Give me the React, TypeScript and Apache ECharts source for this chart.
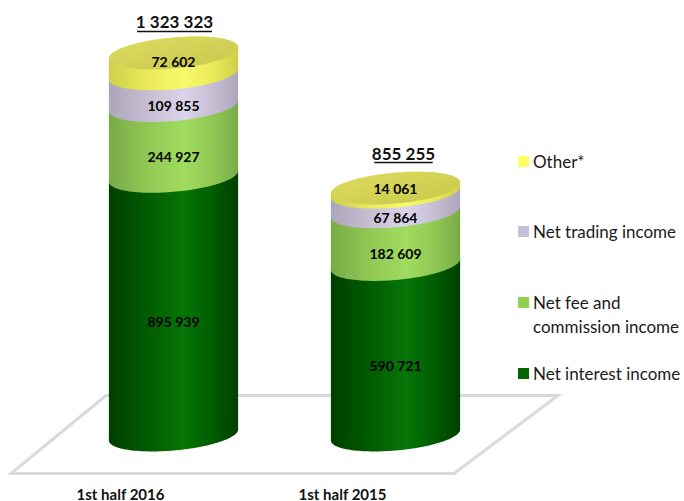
import React, { useEffect, useRef } from "react";
import * as echarts from "echarts";

// Operating income by half-year, stacked bottom to top.
const periods = ["1st half 2016", "1st half 2015"];
const seriesNames = ["Net interest income", "Net fee and commission income", "Net trading income", "Other*"];
const netInterest = [895939, 590721];
const netFee = [244927, 182609];
const netTrading = [109855, 67864];
const other = [72602, 14061];
const totals = [1323323, 855255];
const stackValues = [netInterest, netFee, netTrading, other];

const legendColors = ["#036603", "#92d050", "#c6bfd6", "#ffff66"];
// Side shading of each cylinder band: edge, mid, highlight.
const bandShades = [
  ["#003f00", "#005a00", "#077507"],
  ["#78ab48", "#8fc653", "#a0dc5f"],
  ["#ada5ba", "#c4bcd0", "#dcd4ea"],
  ["#cfcf4a", "#e8e85a", "#f9f96c"],
];

const FONT = "Lato, 'Open Sans', sans-serif";
const WIDTH_RATIO = 0.291; // cylinder half-width as a share of the category band
const RY_RATIO = 0.24; // ellipse height relative to half-width
const TILT = 0.085; // slope of the ellipses
const TOTAL_SHIFT = [[1, -31], [8, -35]]; // placement of each total relative to the cylinder top

const formatNumber = (v: number) => String(v).replace(/\B(?=(\d{3})+(?!\d))/g, " ");

// One point of the tilted ellipse.
const rimPoint = (cx: number, cy: number, a: number, t: number): number[] => [
  cx + a * Math.cos(t),
  cy + a * RY_RATIO * Math.sin(t) - TILT * a * Math.cos(t),
];

const arc = (cx: number, cy: number, a: number, from: number, to: number) => {
  const pts: number[][] = [];
  const steps = 72;
  for (let i = 0; i <= steps; i++) pts.push(rimPoint(cx, cy, a, from + ((to - from) * i) / steps));
  return pts;
};

const sideGradient = (s: string[]) =>
  new echarts.graphic.LinearGradient(0, 0, 1, 0, [
    { offset: 0, color: s[0] },
    { offset: 0.28, color: s[1] },
    { offset: 0.58, color: s[2] },
    { offset: 0.82, color: s[1] },
    { offset: 1, color: s[0] },
  ]);

const renderBand = (seriesIndex: number) => (params: any, api: any) => {
  const cat = api.value(0);
  const [cx, y0] = api.coord([cat, api.value(1)]);
  const [, y1] = api.coord([cat, api.value(2)]);
  const a = api.size([1, 0])[0] * WIDTH_RATIO;
  const ry = a * RY_RATIO;
  const isTop = seriesIndex === stackValues.length - 1;

  const sideEl = {
    type: "polygon",
    shape: { points: [...arc(cx, y0, a, 0, Math.PI), ...arc(cx, y1, a, Math.PI, 2 * Math.PI)] },
    style: { fill: sideGradient(bandShades[seriesIndex]) },
  };
  const children: any[] = [sideEl];

  if (isTop) {
    children.push({
      type: "polygon",
      shape: { points: arc(cx, y1, a, 0, 2 * Math.PI) },
      style: {
        fill: new echarts.graphic.LinearGradient(0, 0, 1, 1, [
          { offset: 0, color: "#dedd62" },
          { offset: 1, color: "#c7c74a" },
        ]),
      },
    });
    // Total above the cylinder, underlined.
    const totalText = formatNumber(totals[cat]);
    const totalX = cx + TOTAL_SHIFT[cat][0];
    const totalY = y1 + TOTAL_SHIFT[cat][1];
    const halfWidth = totalText.length * 4.17;
    children.push({
      type: "text",
      style: {
        text: totalText,
        x: totalX,
        y: totalY,
        align: "center",
        verticalAlign: "middle",
        fill: "#111111",
        fontFamily: FONT,
        fontWeight: 700,
        fontSize: 17,
      },
    });
    children.push({
      type: "line",
      shape: { x1: totalX - halfWidth, y1: totalY + 9.5, x2: totalX + halfWidth, y2: totalY + 9.5 },
      style: { stroke: "#111111", lineWidth: 1.5 },
    });
  }

  const labelY = (y0 + y1) / 2 + (isTop ? -2 : ry);
  children.push({
    type: "text",
    style: {
      text: formatNumber(api.value(3)),
      x: cx,
      y: labelY,
      align: "center",
      verticalAlign: "middle",
      fill: "#000000",
      fontFamily: FONT,
      fontWeight: 700,
      fontSize: 14,
    },
  });
  return { type: "group", children };
};

const buildSeries = () =>
  stackValues.map((values, si) => ({
    type: "custom",
    name: seriesNames[si],
    coordinateSystem: "cartesian2d",
    itemStyle: { color: legendColors[si] },
    encode: { x: 0, y: [1, 2] },
    clip: false,
    data: values.map((v, cat) => {
      const base = stackValues.slice(0, si).reduce((sum, s) => sum + s[cat], 0);
      return [cat, base, base + v, v];
    }),
    renderItem: renderBand(si),
  }));

const legendEntry = (name: string, top: number, formatter?: string) => ({
  data: [name],
  left: 518,
  top,
  padding: 0,
  icon: "rect",
  itemWidth: 11,
  itemHeight: 11,
  itemGap: 0,
  selectedMode: false,
  textStyle: { fontFamily: FONT, fontSize: 17, color: "#1a1a1a", padding: [0, 0, 0, -1] },
  formatter,
});

export default function App() {
  const ref = useRef<HTMLDivElement>(null);
  useEffect(() => {
    document.body.style.margin = "0";
    const chart = echarts.init(ref.current!, undefined, { renderer: "svg" });
    chart.setOption({
      animation: false,
      backgroundColor: "#ffffff",
      grid: { left: 62.5, width: 444, top: 6, bottom: 65 },
      xAxis: {
        type: "category",
        data: periods,
        axisLine: { show: false },
        axisTick: { show: false },
        splitLine: { show: false },
        axisLabel: {
          margin: 51,
          fontFamily: FONT,
          fontWeight: 700,
          fontSize: 15,
          color: "#111111",
          padding: [0, 106, 0, 0],
        },
      },
      yAxis: { type: "value", min: 0, max: 1486000, show: false },
      legend: [
        legendEntry(seriesNames[3], 153),
        legendEntry(seriesNames[2], 223),
        legendEntry(seriesNames[1], 294, "Net fee and"),
        legendEntry(seriesNames[0], 365),
      ],
      graphic: [
        {
          type: "polygon",
          z: 0,
          shape: { points: [[106, 395.5], [558, 395.5], [454, 473.5], [11, 473.5]] },
          style: { fill: "none", stroke: "#d9d9d9", lineWidth: 3 },
        },
        {
          type: "text",
          x: 533,
          y: 326,
          style: {
            text: "commission income",
            fontFamily: FONT,
            fontSize: 17,
            fill: "#1a1a1a",
            verticalAlign: "middle",
          },
        },
      ],
      series: buildSeries(),
    });
    return () => chart.dispose();
  }, []);
  return <div ref={ref} style={{ width: 684, height: 501 }} />;
}
